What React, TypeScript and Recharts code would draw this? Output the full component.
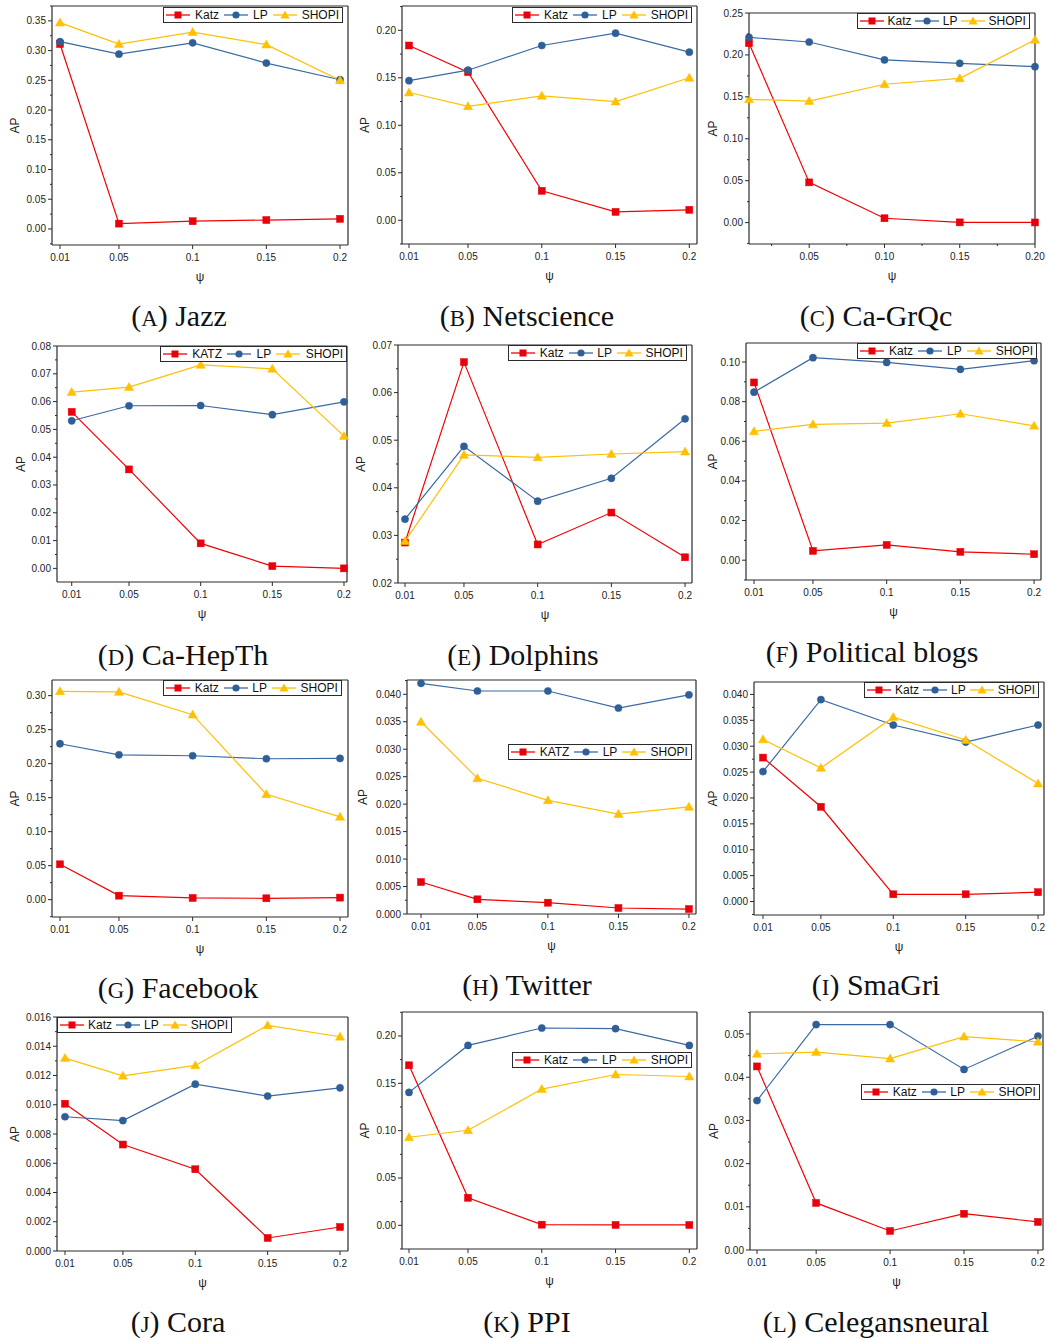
import React from 'react';
import { LineChart, Line, XAxis, YAxis, Legend, ReferenceLine } from 'recharts';

// ---------- data ----------
const psiValues = [0.01, 0.05, 0.1, 0.15, 0.2];
const psiLabels = ['0.01', '0.05', '0.1', '0.15', '0.2'];
const psiTicksC = [0.05, 0.1, 0.15, 0.2];
const psiLabelsC = ['0.05', '0.10', '0.15', '0.20'];

const jazzKatz = [0.311, 0.009, 0.013, 0.015, 0.017];
const jazzLP = [0.315, 0.294, 0.313, 0.279, 0.251];
const jazzSHOPI = [0.347, 0.311, 0.331, 0.31, 0.25];

const netKatz = [0.184, 0.156, 0.031, 0.0088, 0.011];
const netLP = [0.147, 0.158, 0.184, 0.197, 0.177];
const netSHOPI = [0.1345, 0.12, 0.131, 0.125, 0.15];

const grqcKatz = [0.214, 0.048, 0.0052, 0.0003, 0.0002];
const grqcLP = [0.221, 0.2154, 0.194, 0.19, 0.186];
const grqcSHOPI = [0.147, 0.145, 0.165, 0.172, 0.218];

const hepKatz = [0.0563, 0.0356, 0.009, 0.0008, 0.0];
const hepLP = [0.0531, 0.0585, 0.0586, 0.0553, 0.0599];
const hepSHOPI = [0.0634, 0.0652, 0.0732, 0.0718, 0.0476];

const dolKatz = [0.0285, 0.0664, 0.0281, 0.0348, 0.0254];
const dolLP = [0.0334, 0.0487, 0.0372, 0.042, 0.0545];
const dolSHOPI = [0.0288, 0.0469, 0.0464, 0.0471, 0.0476];

const polKatz = [0.0897, 0.0047, 0.0077, 0.0042, 0.003];
const polLP = [0.0848, 0.1022, 0.0998, 0.0963, 0.1007];
const polSHOPI = [0.065, 0.0685, 0.0692, 0.0739, 0.0678];

const fbKatz = [0.052, 0.0059, 0.0025, 0.002, 0.003];
const fbLP = [0.2293, 0.213, 0.2116, 0.2072, 0.2077];
const fbSHOPI = [0.3064, 0.3054, 0.272, 0.155, 0.1218];

const twKatz = [0.00582, 0.00267, 0.00206, 0.00109, 0.0009];
const twLP = [0.042, 0.0406, 0.0406, 0.0375, 0.0399];
const twSHOPI = [0.035, 0.0247, 0.0207, 0.0182, 0.0195];

const smaKatz = [0.0278, 0.0183, 0.0014, 0.0014, 0.0018];
const smaLP = [0.0251, 0.039, 0.0341, 0.0308, 0.0341];
const smaSHOPI = [0.0313, 0.0258, 0.0356, 0.0312, 0.0228];

const coraKatz = [0.01007, 0.00728, 0.00559, 0.00089, 0.00164];
const coraLP = [0.00918, 0.00892, 0.01141, 0.01059, 0.01116];
const coraSHOPI = [0.01319, 0.01198, 0.01269, 0.01543, 0.01465];

const ppiKatz = [0.169, 0.0291, 0.0007, 0.0004, 0.0004];
const ppiLP = [0.1404, 0.19, 0.2084, 0.2077, 0.19];
const ppiSHOPI = [0.093, 0.1004, 0.1439, 0.1593, 0.1572];

const celKatz = [0.0425, 0.0109, 0.0044, 0.0084, 0.0065];
const celLP = [0.0346, 0.0522, 0.0522, 0.0418, 0.0495];
const celSHOPI = [0.0454, 0.0458, 0.0443, 0.0494, 0.0482];

// y tick labels (major ticks)
const yTicksJazz = [0, 0.05, 0.1, 0.15, 0.2, 0.25, 0.3, 0.35];
const yTicks020 = [0, 0.05, 0.1, 0.15, 0.2];
const yTicks025 = [0, 0.05, 0.1, 0.15, 0.2, 0.25];
const yTicksHep = [0, 0.01, 0.02, 0.03, 0.04, 0.05, 0.06, 0.07, 0.08];
const yTicksDol = [0.02, 0.03, 0.04, 0.05, 0.06, 0.07];
const yTicksPol = [0, 0.02, 0.04, 0.06, 0.08, 0.1];
const yTicksFb = [0, 0.05, 0.1, 0.15, 0.2, 0.25, 0.3];
const yTicks040 = [0, 0.005, 0.01, 0.015, 0.02, 0.025, 0.03, 0.035, 0.04];
const yTicksCora = [0, 0.002, 0.004, 0.006, 0.008, 0.01, 0.012, 0.014, 0.016];
const yTicksCel = [0, 0.01, 0.02, 0.03, 0.04, 0.05];

// ---------- styling / layout ----------
const AXIS = '#2b2b2b';
const SANS = "'Liberation Sans', Arial, Helvetica, sans-serif";
const SERIF = "'Liberation Serif', 'Times New Roman', serif";
const RED = '#f20000';
const RED_M = '#e8000b';
const BLUE = '#3a6aa3';
const BLUE_M = '#2f5f96';
const YEL = '#ffc000';
const YEL_M = '#ffc000';

type PanelCfg = {
  letter: string;
  name: string;
  katzName: string;
  katz: number[];
  lp: number[];
  shopi: number[];
  yTicks: number[];
  yDec: number;
  xTicks: number[];
  xLabels: string[];
  xMinor: number[];
  box: [number, number, number, number];
  xDomain: [number, number];
  yDomain: [number, number];
  legend: [number, number, number];
  apX: number;
  cap: [number, number];
};

const panels: PanelCfg[] = [
  { letter: 'A', name: 'Jazz', katzName: 'Katz', katz: jazzKatz, lp: jazzLP, shopi: jazzSHOPI, yTicks: yTicksJazz, yDec: 2, xTicks: psiValues, xLabels: psiLabels, xMinor: [], box: [52, 6, 348, 245], xDomain: [0.00457, 0.2054], yDomain: [-0.027, 0.375], legend: [163, 7, 180], apX: 15, cap: [179, 316] },
  { letter: 'B', name: 'Netscience', katzName: 'Katz', katz: netKatz, lp: netLP, shopi: netSHOPI, yTicks: yTicks020, yDec: 2, xTicks: psiValues, xLabels: psiLabels, xMinor: [], box: [402, 6, 697, 244], xDomain: [0.00525, 0.2052], yDomain: [-0.025, 0.2256], legend: [512, 7, 180], apX: 365, cap: [527, 316] },
  { letter: 'C', name: 'Ca-GrQc', katzName: 'Katz', katz: grqcKatz, lp: grqcLP, shopi: grqcSHOPI, yTicks: yTicks025, yDec: 2, xTicks: psiTicksC, xLabels: psiLabelsC, xMinor: [0.025, 0.075, 0.125, 0.175], box: [749, 13, 1035, 244], xDomain: [0.01, 0.2], yDomain: [-0.0255, 0.25], legend: [857, 13, 173], apX: 713, cap: [876, 316] },
  { letter: 'D', name: 'Ca-HepTh', katzName: 'KATZ', katz: hepKatz, lp: hepLP, shopi: hepSHOPI, yTicks: yTicksHep, yDec: 2, xTicks: psiValues, xLabels: psiLabels, xMinor: [], box: [57, 346, 347, 582], xDomain: [-0.00026, 0.2021], yDomain: [-0.0049, 0.08], legend: [160, 346, 187], apX: 21, cap: [183, 655] },
  { letter: 'E', name: 'Dolphins', katzName: 'Katz', katz: dolKatz, lp: dolLP, shopi: dolSHOPI, yTicks: yTicksDol, yDec: 2, xTicks: psiValues, xLabels: psiLabels, xMinor: [], box: [398, 345, 692, 583], xDomain: [0.00525, 0.2047], yDomain: [0.02, 0.07], legend: [508, 345, 179], apX: 361, cap: [523, 655] },
  { letter: 'F', name: 'Political blogs', katzName: 'Katz', katz: polKatz, lp: polLP, shopi: polSHOPI, yTicks: yTicksPol, yDec: 2, xTicks: psiValues, xLabels: psiLabels, xMinor: [], box: [746, 343, 1041, 580], xDomain: [0.00457, 0.2047], yDomain: [-0.01, 0.1096], legend: [857, 343, 180], apX: 713, cap: [872, 652] },
  { letter: 'G', name: 'Facebook', katzName: 'Katz', katz: fbKatz, lp: fbLP, shopi: fbSHOPI, yTicks: yTicksFb, yDec: 2, xTicks: psiValues, xLabels: psiLabels, xMinor: [], box: [52, 680, 348, 917], xDomain: [0.00457, 0.2054], yDomain: [-0.0255, 0.323], legend: [163, 680, 179], apX: 15, cap: [178, 988] },
  { letter: 'H', name: 'Twitter', katzName: 'KATZ', katz: twKatz, lp: twLP, shopi: twSHOPI, yTicks: yTicks040, yDec: 3, xTicks: psiValues, xLabels: psiLabels, xMinor: [], box: [407, 680, 696, 914], xDomain: [0.00007, 0.205], yDomain: [0, 0.0426], legend: [508, 744, 184], apX: 363, cap: [527, 985] },
  { letter: 'I', name: 'SmaGri', katzName: 'Katz', katz: smaKatz, lp: smaLP, shopi: smaSHOPI, yTicks: yTicks040, yDec: 3, xTicks: psiValues, xLabels: psiLabels, xMinor: [], box: [754, 682, 1044, 915], xDomain: [0.00378, 0.2041], yDomain: [-0.0026, 0.0424], legend: [864, 682, 175], apX: 713, cap: [876, 985] },
  { letter: 'J', name: 'Cora', katzName: 'Katz', katz: coraKatz, lp: coraLP, shopi: coraSHOPI, yTicks: yTicksCora, yDec: 3, xTicks: psiValues, xLabels: psiLabels, xMinor: [], box: [57, 1017, 348, 1251], xDomain: [0.00447, 0.2055], yDomain: [0, 0.016], legend: [57, 1017, 175], apX: 15, cap: [178, 1322] },
  { letter: 'K', name: 'PPI', katzName: 'Katz', katz: ppiKatz, lp: ppiLP, shopi: ppiSHOPI, yTicks: yTicks020, yDec: 2, xTicks: psiValues, xLabels: psiLabels, xMinor: [], box: [402, 1012, 697, 1249], xDomain: [0.00525, 0.2052], yDomain: [-0.025, 0.2253], legend: [512, 1052, 180], apX: 365, cap: [527, 1322] },
  { letter: 'L', name: 'Celegansneural', katzName: 'Katz', katz: celKatz, lp: celLP, shopi: celSHOPI, yTicks: yTicksCel, yDec: 2, xTicks: psiValues, xLabels: psiLabels, xMinor: [], box: [750, 1012, 1043, 1250], xDomain: [0.00527, 0.2034], yDomain: [0, 0.0551], legend: [861, 1084, 179], apX: 714, cap: [876, 1322] },
];

const near = (a: number, b: number) => Math.abs(a - b) < 1e-9;

function withMinors(majors: number[], domain: [number, number]) {
  const step = majors[1] - majors[0];
  const all = [...majors, ...majors.map((m) => m + step / 2), majors[0] - step / 2];
  return all
    .filter((v) => v >= domain[0] - 1e-9 && v <= domain[1] + 1e-9)
    .sort((a, b) => a - b);
}

const Square = (p: any) =>
  p.cx == null ? null : <rect key={`s${p.index}`} x={p.cx - 3.5} y={p.cy - 3.5} width={7} height={7} fill={RED_M} stroke={RED_M} strokeWidth={0.5} />;
const Circle = (p: any) =>
  p.cx == null ? null : <circle key={`c${p.index}`} cx={p.cx} cy={p.cy} r={3.6} fill={BLUE_M} stroke={BLUE_M} strokeWidth={0.5} />;
const Tri = (p: any) =>
  p.cx == null ? null : (
    <polygon key={`t${p.index}`} points={`${p.cx},${p.cy - 4.6} ${p.cx + 4.6},${p.cy + 3.4} ${p.cx - 4.6},${p.cy + 3.4}`} fill={YEL_M} stroke={YEL_M} strokeWidth={0.5} />
  );

function LegendIcon({ kind, color }: { kind: string; color: string }) {
  return (
    <svg width={24} height={10} style={{ display: 'block', flex: '0 0 auto' }}>
      <line x1={0} y1={5} x2={24} y2={5} stroke={color} strokeWidth={1.3} />
      {kind === 'sq' && <rect x={8.5} y={1.5} width={7} height={7} fill={RED_M} />}
      {kind === 'ci' && <circle cx={12} cy={5} r={3.6} fill={BLUE_M} />}
      {kind === 'tr' && <polygon points="12,0.4 16.6,8.4 7.4,8.4" fill={YEL_M} />}
    </svg>
  );
}

function Panel({ cfg }: { cfg: PanelCfg }) {
  const [l, t, r, b] = cfg.box;
  const ML = 60, MT = 10, MR = 10, MB = 45;
  const W = r - l + ML + MR;
  const H = b - t + MT + MB;
  const cl = l - ML;
  const ct = t - MT;
  const data = psiValues.map((x, i) => ({ x, katz: cfg.katz[i], lp: cfg.lp[i], shopi: cfg.shopi[i] }));
  const yAll = withMinors(cfg.yTicks, cfg.yDomain);
  const xAll = [...cfg.xTicks, ...cfg.xMinor].sort((a, c) => a - c);

  const yTick = (p: any) => {
    const v = p.payload.value;
    const major = cfg.yTicks.some((m) => near(m, v));
    return (
      <g>
        <line x1={p.x} y1={p.y} x2={p.x - (major ? 4 : 2)} y2={p.y} stroke={AXIS} strokeWidth={1} />
        {major && (
          <text x={p.x - 6} y={p.y + 3.5} textAnchor="end" fontSize={10} fontFamily={SANS} fill="#222">
            {v.toFixed(cfg.yDec)}
          </text>
        )}
      </g>
    );
  };
  const xTick = (p: any) => {
    const v = p.payload.value;
    const idx = cfg.xTicks.findIndex((m) => near(m, v));
    const major = idx >= 0;
    return (
      <g>
        <line x1={p.x} y1={p.y} x2={p.x} y2={p.y + (major ? 4 : 2)} stroke={AXIS} strokeWidth={1} />
        {major && (
          <text x={p.x} y={p.y + 15.5} textAnchor="middle" fontSize={10} fontFamily={SANS} fill="#222">
            {cfg.xLabels[idx]}
          </text>
        )}
      </g>
    );
  };
  const apx = cfg.apX - cl;
  const apy = (t + b) / 2 - ct;
  const yLabel = () => (
    <text x={apx} y={apy} transform={`rotate(-90, ${apx}, ${apy})`} textAnchor="middle" dominantBaseline="central" fontSize={12} fontFamily={SANS} fill="#222">
      AP
    </text>
  );
  const xLabel = () => (
    <text x={(l + r) / 2 - cl} y={b + 36 - ct} textAnchor="middle" fontSize={12} fontFamily={SANS} fill="#222">
      ψ
    </text>
  );
  const [lgL, lgT, lgW] = cfg.legend;
  const legendContent = () => (
    <div
      style={{
        boxSizing: 'border-box',
        width: lgW,
        height: 16,
        border: `1px solid ${AXIS}`,
        background: '#fff',
        display: 'flex',
        alignItems: 'center',
        justifyContent: 'space-between',
        paddingLeft: 2,
        paddingRight: 3,
        fontFamily: SANS,
        fontSize: 12,
        color: '#111',
        lineHeight: '14px',
        whiteSpace: 'nowrap',
      }}
    >
      <LegendIcon kind="sq" color={RED} />
      <span>{cfg.katzName}</span>
      <LegendIcon kind="ci" color={BLUE} />
      <span>LP</span>
      <LegendIcon kind="tr" color={YEL} />
      <span>SHOPI</span>
    </div>
  );

  return (
    <div style={{ position: 'absolute', left: cl, top: ct, width: W, height: H }}>
      <LineChart width={W} height={H} data={data} margin={{ top: MT, right: MR, left: 0, bottom: 0 }}>
        <XAxis
          dataKey="x"
          type="number"
          domain={cfg.xDomain}
          ticks={xAll}
          interval={0}
          tickLine={false}
          tickSize={0}
          tickMargin={0}
          height={MB}
          axisLine={{ stroke: AXIS, strokeWidth: 1.2 }}
          tick={xTick}
          label={xLabel}
        />
        <YAxis
          type="number"
          domain={cfg.yDomain}
          ticks={yAll}
          interval={0}
          tickLine={false}
          tickSize={0}
          tickMargin={0}
          width={ML}
          axisLine={{ stroke: AXIS, strokeWidth: 1.2 }}
          tick={yTick}
          label={yLabel}
        />
        <ReferenceLine y={cfg.yDomain[1]} stroke={AXIS} strokeWidth={1.2} />
        <ReferenceLine x={cfg.xDomain[1]} stroke={AXIS} strokeWidth={1.2} />
        <Legend
          layout="horizontal"
          verticalAlign="middle"
          align="center"
          content={legendContent}
          wrapperStyle={{ left: lgL - cl, top: lgT - ct, width: lgW, height: 16 }}
        />
        <Line type="linear" dataKey="katz" name={cfg.katzName} stroke={RED} strokeWidth={1.2} dot={Square} activeDot={false} isAnimationActive={false} />
        <Line type="linear" dataKey="lp" name="LP" stroke={BLUE} strokeWidth={1.2} dot={Circle} activeDot={false} isAnimationActive={false} />
        <Line type="linear" dataKey="shopi" name="SHOPI" stroke={YEL} strokeWidth={1.2} dot={Tri} activeDot={false} isAnimationActive={false} />
      </LineChart>
    </div>
  );
}

function Caption({ cfg }: { cfg: PanelCfg }) {
  const [cx, cy] = cfg.cap;
  return (
    <div
      style={{
        position: 'absolute',
        left: cx - 200,
        top: cy - 20,
        width: 400,
        height: 40,
        lineHeight: '40px',
        textAlign: 'center',
        fontFamily: SERIF,
        fontSize: 30,
        color: '#111',
        whiteSpace: 'nowrap',
      }}
    >
      (<span style={{ fontSize: '0.76em' }}>{cfg.letter}</span>) {cfg.name}
    </div>
  );
}

export default function App() {
  return (
    <div style={{ position: 'absolute', left: 0, top: 0, width: 1047, height: 1340, background: '#fff', overflow: 'hidden' }}>
      {panels.map((p) => (
        <React.Fragment key={p.letter}>
          <Panel cfg={p} />
          <Caption cfg={p} />
        </React.Fragment>
      ))}
    </div>
  );
}
